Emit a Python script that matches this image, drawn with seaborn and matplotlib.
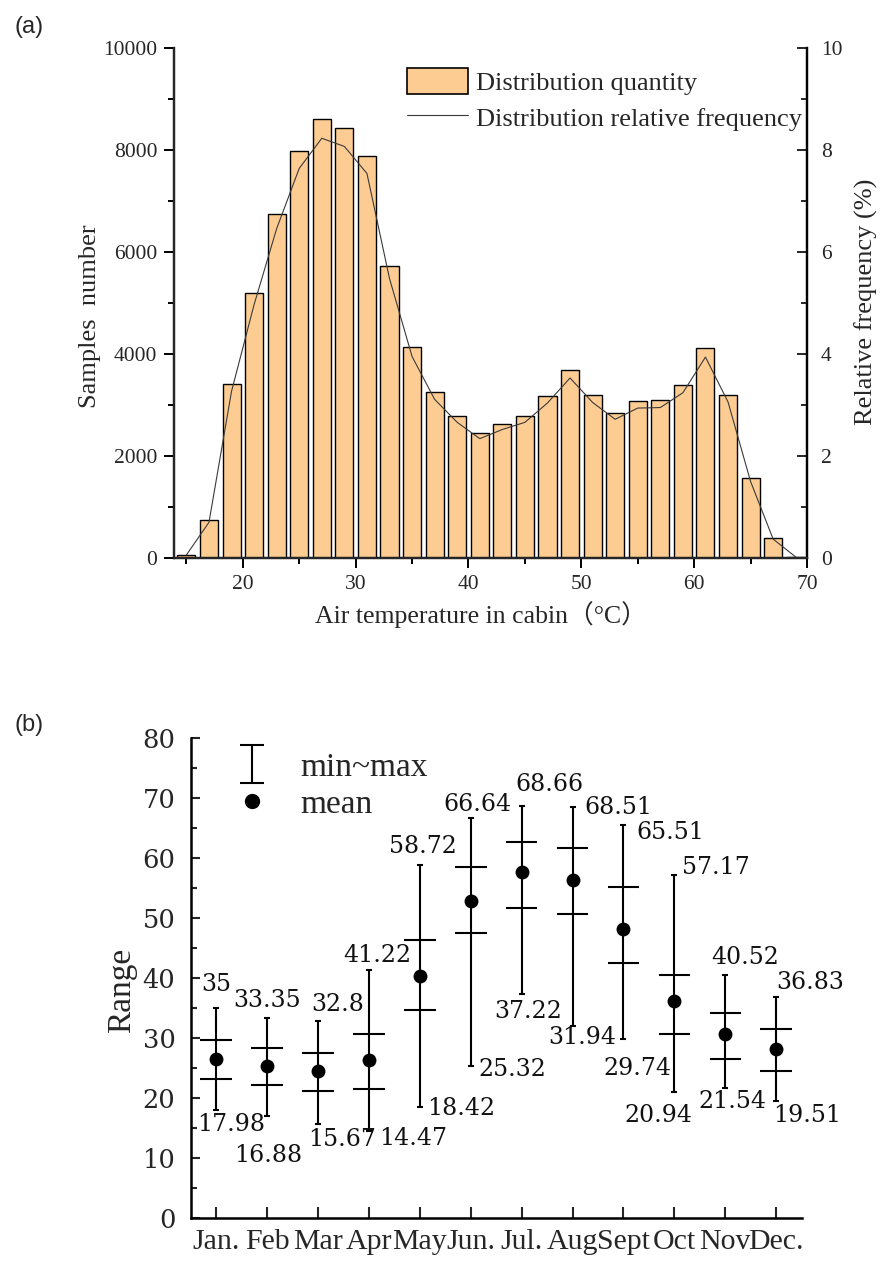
import numpy as np
import pandas as pd
import matplotlib
matplotlib.use("Agg")
import matplotlib.pyplot as plt
import seaborn as sns
from matplotlib.path import Path
from matplotlib.lines import Line2D
from matplotlib.patches import Patch
from matplotlib.ticker import MultipleLocator

# ---------------- (a) cabin air temperature, 2 degC bins ----------------
bin_centers = [15, 17, 19, 21, 23, 25, 27, 29, 31, 33, 35, 37, 39, 41,
               43, 45, 47, 49, 51, 53, 55, 57, 59, 61, 63, 65, 67, 69]
sample_counts = [59, 737, 3418, 5196, 6751, 7986, 8608, 8437, 7888, 5731,
                 4130, 3255, 2777, 2450, 2633, 2780, 3182, 3692, 3190, 2843,
                 3078, 3090, 3385, 4124, 3196, 1569, 392, 25]
relative_freq = [0.06, 0.70, 3.27, 4.97, 6.46, 7.64, 8.23, 8.07, 7.54, 5.48,
                 3.95, 3.11, 2.66, 2.34, 2.52, 2.66, 3.04, 3.53, 3.05, 2.72,
                 2.94, 2.95, 3.24, 3.94, 3.06, 1.50, 0.37, 0.02]

# ---------------- (b) monthly statistics ----------------
months = ["Jan.", "Feb", "Mar", "Apr", "May", "Jun.",
          "Jul.", "Aug", "Sept", "Oct", "Nov", "Dec."]
temp_max = [35, 33.35, 32.8, 41.22, 58.72, 66.64,
            68.66, 68.51, 65.51, 57.17, 40.52, 36.83]
temp_min = [17.98, 16.88, 15.67, 14.47, 18.42, 25.32,
            37.22, 31.94, 29.74, 20.94, 21.54, 19.51]
temp_mean = [26.4, 25.3, 24.45, 26.3, 40.3, 52.8,
             57.6, 56.3, 48.2, 36.1, 30.6, 28.1]
band_hi = [29.6, 28.3, 27.5, 30.7, 46.3, 58.45,
           62.6, 61.7, 55.2, 40.5, 34.2, 31.45]
band_lo = [23.2, 22.2, 21.2, 21.45, 34.6, 47.4,
           51.7, 50.6, 42.5, 30.7, 26.5, 24.5]

hist_df = pd.DataFrame({"temp": bin_centers, "count": sample_counts,
                        "freq": relative_freq})
month_df = pd.DataFrame({"month": months, "pos": np.arange(len(months)),
                         "mean": temp_mean, "max": temp_max, "min": temp_min,
                         "hi": band_hi, "lo": band_lo})

sns.set_style("ticks")
plt.rcParams["font.family"] = ["Liberation Serif", "Noto Sans CJK SC", "DejaVu Sans"]
plt.rcParams["axes.linewidth"] = 1.6

W, H = 881, 1262
fig = plt.figure(figsize=(W / 100, H / 100), dpi=100)
fig.patch.set_facecolor("white")


def fig_box(x0, y0, x1, y1):
    return [x0 / W, 1 - y1 / H, (x1 - x0) / W, (y1 - y0) / H]


# =============================== panel (a) ===============================
ax = fig.add_axes(fig_box(174, 48, 807, 558))
bar_color = "#FDCC93"
sns.barplot(data=hist_df, x="temp", y="count", native_scale=True, width=0.8,
            color=bar_color, saturation=1, edgecolor="black", linewidth=1.0,
            ax=ax)
ax.set_xlim(13.9, 70)
ax.set_ylim(0, 10000)
ax.xaxis.set_major_locator(MultipleLocator(10))
ax.xaxis.set_minor_locator(MultipleLocator(5))
ax.yaxis.set_major_locator(MultipleLocator(2000))
ax.yaxis.set_minor_locator(MultipleLocator(1000))
ax.set_xlabel("")
ax.set_ylabel("")
ax.tick_params(axis="both", which="major", direction="out", length=7,
               width=1.4, labelsize=15.5, pad=5, color="black")
ax.tick_params(axis="both", which="minor", direction="out", length=4,
               width=1.4, color="black")
ax.spines["top"].set_visible(False)
for s in ("left", "bottom", "right"):
    ax.spines[s].set_linewidth(1.6)
    ax.spines[s].set_color("black")

ax2 = ax.twinx()
sns.lineplot(data=hist_df, x="temp", y="freq", color="#3a3a3a", linewidth=0.8,
             ax=ax2)
ax2.set_ylim(0, 10)
ax2.set_xlim(13.9, 70)
ax2.yaxis.set_major_locator(MultipleLocator(2))
ax2.yaxis.set_minor_locator(MultipleLocator(1))
ax2.set_ylabel("")
ax2.set_xlabel("")
ax2.tick_params(axis="y", which="major", direction="in", length=7, width=1.4,
                labelsize=15.5, pad=10)
ax2.tick_params(axis="y", which="minor", direction="in", length=4, width=1.4)
ax2.spines["top"].set_visible(False)
ax2.spines["right"].set_linewidth(1.6)
ax2.spines["right"].set_color("black")

ax.text((90 - 174) / 633, (558 - 316) / 510, "Samples  number",
        transform=ax.transAxes, rotation=90, ha="center", va="center",
        fontsize=19)
ax.text((866 - 174) / 633, (558 - 302) / 510, "Relative frequency (%)",
        transform=ax.transAxes, rotation=90, ha="center", va="center",
        fontsize=19)
ax.text((481 - 174) / 633, (558 - 615) / 510, "Air temperature in cabin（°C）",
        transform=ax.transAxes, ha="center", va="center", fontsize=18.5)

legend_handles = [Patch(facecolor=bar_color, edgecolor="black", linewidth=1.2),
                  Line2D([], [], color="#3a3a3a", linewidth=0.8)]
ax2.legend(legend_handles,
           ["Distribution quantity", "Distribution relative frequency"],
           loc="upper left", bbox_to_anchor=((407 - 174) / 633, (558 - 68) / 510),
           frameon=False, fontsize=19, handlelength=2.3, handleheight=1.15,
           handletextpad=0.3, labelspacing=0.35, borderpad=0, borderaxespad=0)

# =============================== panel (b) ===============================
bx = fig.add_axes(fig_box(190.7, 737.7, 801.7, 1217.7))
num_font = "DejaVu Serif"

pos = month_df["pos"].to_numpy()
mean = month_df["mean"].to_numpy()
err = [mean - month_df["min"].to_numpy(), month_df["max"].to_numpy() - mean]
bx.errorbar(pos, mean, yerr=err, fmt="none", ecolor="black", elinewidth=1.5,
            capsize=2.2, capthick=1.5, zorder=2)
bx.hlines(month_df["hi"], pos - 0.31, pos + 0.31, color="black", linewidth=1.5,
          zorder=2)
bx.hlines(month_df["lo"], pos - 0.31, pos + 0.31, color="black", linewidth=1.5,
          zorder=2)
sns.scatterplot(data=month_df, x="pos", y="mean", color="black", s=100,
                edgecolor="black", linewidth=0, zorder=3, ax=bx)

bx.set_xlim(-0.5, 11.5)
bx.set_ylim(0, 80)
bx.set_xticks(pos)
bx.set_xticklabels(months)
bx.yaxis.set_major_locator(MultipleLocator(10))
bx.yaxis.set_minor_locator(MultipleLocator(5))
bx.set_xlabel("")
bx.set_ylabel("")
bx.tick_params(axis="x", which="major", direction="in", length=8, width=1.5,
               labelsize=21.5, pad=8)
bx.tick_params(axis="y", which="major", direction="in", length=6.5, width=1.5,
               labelsize=18.5, pad=11)
bx.tick_params(axis="y", which="minor", direction="in", length=4.3, width=1.5)
for lab in bx.get_yticklabels():
    lab.set_fontfamily(num_font)
for s in ("top", "right"):
    bx.spines[s].set_visible(False)
for s in ("left", "bottom"):
    bx.spines[s].set_linewidth(1.8)
    bx.spines[s].set_color("black")

bx.text((122 - 190.7) / 611, (1217.7 - 990) / 480, "Range",
        transform=bx.transAxes, rotation=90, ha="center", va="center",
        fontsize=24)

# value labels: offsets (pixels) of each label centre from its bar end
max_offsets = [(0, 23), (0, 17), (20, 16), (8, 15), (3, 19), (7, 13),
               (28, 21), (46, -1), (47, -8), (41, 7), (20, 17), (34, 14)]
min_offsets = [(15, -15), (1, -39), (24, -16), (44, -8), (41, -1), (42, -4),
               (7, -17), (10, -11), (14, -29), (-16, -23), (7, -13), (31, -15)]
for i, row in month_df.iterrows():
    for val, off in ((row["max"], max_offsets[i]), (row["min"], min_offsets[i])):
        bx.annotate(f"{val:g}", xy=(row["pos"], val), xytext=off,
                    textcoords="offset pixels", ha="center", va="center",
                    fontsize=17, family=num_font, color="#111111",
                    annotation_clip=False)

ibeam = Path([(-0.33, 0.5), (0.33, 0.5), (0, 0.5), (0, -0.5),
              (-0.33, -0.5), (0.33, -0.5)],
             [Path.MOVETO, Path.LINETO, Path.MOVETO, Path.LINETO,
              Path.MOVETO, Path.LINETO])
leg_handles = [Line2D([], [], linestyle="none", marker=ibeam, markersize=27,
                      markeredgewidth=1.5, markeredgecolor="black",
                      fillstyle="none"),
               Line2D([], [], linestyle="none", marker="o", markersize=10,
                      color="black")]
bx.legend(leg_handles, ["min~max", "mean"], loc="upper left",
          bbox_to_anchor=((232 - 190.7) / 611, (1217.7 - 752) / 480),
          frameon=False, fontsize=24, handlelength=1.2, handletextpad=0.85,
          labelspacing=0.2, borderpad=0, borderaxespad=0)

# panel tags
fig.text(14 / W, 1 - 27 / H, "(a)", ha="left", va="center", fontsize=17,
         family="Liberation Sans")
fig.text(14 / W, 1 - 725 / H, "(b)", ha="left", va="center", fontsize=17,
         family="Liberation Sans")

fig.savefig("out.png", dpi=100, facecolor="white")
